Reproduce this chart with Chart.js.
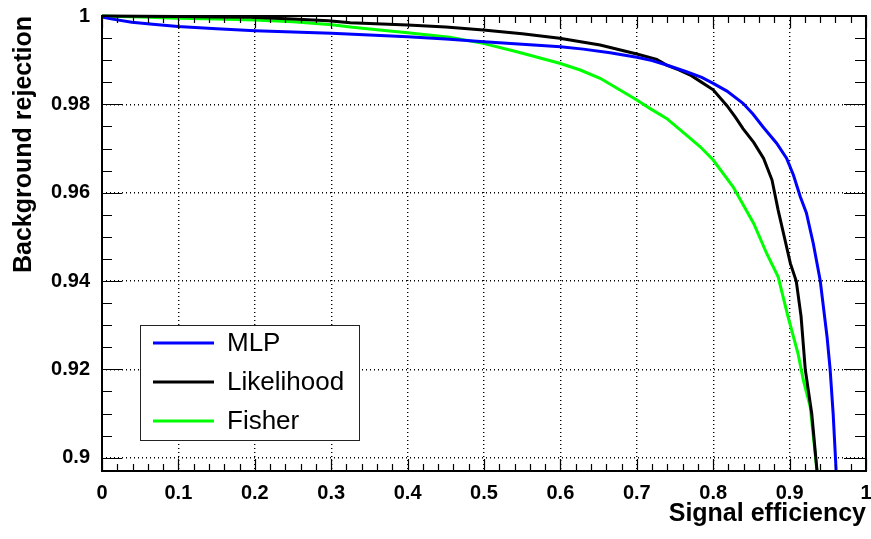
<!DOCTYPE html>
<html>
<head>
<meta charset="utf-8">
<script src="https://cdn.jsdelivr.net/npm/chart.js@4/dist/chart.umd.min.js"></script>
<style>
  html, body { margin: 0; padding: 0; background: #ffffff; }
  #wrap { width: 871px; height: 539px; position: relative; }
</style>
</head>
<body>
<div id="wrap"><canvas id="roc" width="871" height="539"></canvas></div>
<script>
// ROC curves: background rejection versus signal efficiency
const seriesNames = ['MLP', 'Likelihood', 'Fisher'];
const seriesColors = ['#0000ff', '#000000', '#00ff00'];

const mlpEff = [0, 0.01, 0.039, 0.07, 0.0995, 0.15, 0.2, 0.25, 0.3, 0.35, 0.4, 0.45, 0.5, 0.55, 0.6, 0.63, 0.665, 0.7, 0.72, 0.739, 0.765, 0.785, 0.8, 0.818, 0.839, 0.852, 0.865, 0.883, 0.896, 0.905, 0.914, 0.922, 0.931, 0.94, 0.949, 0.953, 0.957, 0.961, 0.962];
const mlpRej = [0.9998, 0.9994, 0.9986, 0.9981, 0.99765, 0.9971, 0.99667, 0.9964, 0.99608, 0.9957, 0.99531, 0.9948, 0.99418, 0.9936, 0.99305, 0.9925, 0.99169, 0.99064, 0.9899, 0.9889, 0.98738, 0.9861, 0.98475, 0.983, 0.98023, 0.9778, 0.97493, 0.9712, 0.9678, 0.964, 0.9591, 0.9554, 0.9485, 0.9402, 0.9274, 0.9201, 0.91, 0.8968, 0.894];

const likEff = [0, 0.05, 0.1, 0.15, 0.194, 0.25, 0.296, 0.325, 0.4, 0.45, 0.499, 0.55, 0.599, 0.652, 0.7, 0.726, 0.739, 0.755, 0.77, 0.783, 0.8, 0.818, 0.829, 0.839, 0.853, 0.866, 0.877, 0.885, 0.894, 0.901, 0.9087, 0.915, 0.9205, 0.929, 0.936, 0.937];
const likRej = [1.0, 0.99995, 0.9999, 0.9998, 0.9997, 0.9993, 0.99894, 0.99848, 0.99796, 0.9975, 0.99683, 0.996, 0.99495, 0.99343, 0.9914, 0.9902, 0.9889, 0.9878, 0.98664, 0.9852, 0.9833, 0.9797, 0.9771, 0.9745, 0.9714, 0.96777, 0.96286, 0.95607, 0.9493, 0.944, 0.94, 0.932, 0.92, 0.91, 0.8968, 0.894];

const fisEff = [0, 0.05, 0.0995, 0.15, 0.2, 0.25, 0.301, 0.325, 0.36, 0.4, 0.455, 0.499, 0.543, 0.599, 0.626, 0.652, 0.678, 0.7, 0.717, 0.739, 0.765, 0.783, 0.8, 0.826, 0.853, 0.87, 0.885, 0.898, 0.911, 0.918, 0.927, 0.936, 0.937];
const fisRej = [1.0, 0.9998, 0.9995, 0.9993, 0.99909, 0.9987, 0.998, 0.9975, 0.9969, 0.99622, 0.99517, 0.99381, 0.99191, 0.98929, 0.98777, 0.98589, 0.98324, 0.98097, 0.97909, 0.97682, 0.97305, 0.9704, 0.96739, 0.96134, 0.95304, 0.94624, 0.94095, 0.93189, 0.9236, 0.91755, 0.91151, 0.8968, 0.894];

const xTickValues = [0, 0.1, 0.2, 0.3, 0.4, 0.5, 0.6, 0.7, 0.8, 0.9, 1.0];
const xTickLabels = ['0', '0.1', '0.2', '0.3', '0.4', '0.5', '0.6', '0.7', '0.8', '0.9', '1'];
const yTickValues = [0.9, 0.92, 0.94, 0.96, 0.98, 1.0];
const yTickLabels = ['0.9', '0.92', '0.94', '0.96', '0.98', '1'];
const xRange = [0, 1];
const yRange = [0.897, 1.0];

const FONT = "'Liberation Sans', Arial, Helvetica, sans-serif";

function toPoints(xs, ys) {
  return xs.map((v, i) => ({ x: v, y: ys[i] }));
}

const curves = [toPoints(mlpEff, mlpRej), toPoints(likEff, likRej), toPoints(fisEff, fisRej)];

// Frame, inward ROOT-style ticks on all four sides, and the boxed legend
const framePlugin = {
  id: 'frameTicksLegend',
  afterDatasetsDraw(chart) {
    const { ctx, chartArea: a, scales } = chart;
    const xs = scales.x, ys = scales.y;
    ctx.save();
    ctx.strokeStyle = '#000';
    ctx.lineWidth = 1.2;
    ctx.beginPath();
    // x ticks every 0.02, major every 0.1
    for (let i = 0; i <= 50; i++) {
      const v = i * 0.02;
      const px = Math.round(xs.getPixelForValue(v)) + 0.5;
      const major = i % 5 === 0;
      const len = major ? 12 : 7;
      ctx.moveTo(px, a.bottom); ctx.lineTo(px, a.bottom - len);
      ctx.moveTo(px, a.top); ctx.lineTo(px, a.top + len);
    }
    // y ticks every 0.005, major every 0.02
    for (let i = 0; i <= 20; i++) {
      const v = 0.9 + i * 0.005;
      const py = Math.round(ys.getPixelForValue(v)) + 0.5;
      const major = i % 4 === 0;
      const ll = major ? 20 : 10;
      const lr = major ? 22 : 11;
      ctx.moveTo(a.left, py); ctx.lineTo(a.left + ll, py);
      ctx.moveTo(a.right, py); ctx.lineTo(a.right - lr, py);
    }
    ctx.stroke();

    ctx.lineWidth = 2;
    ctx.strokeRect(a.left, a.top, a.right - a.left, a.bottom - a.top);

    // legend box
    const bx = 140, by = 325, bw = 219, bh = 115;
    ctx.fillStyle = '#ffffff';
    ctx.fillRect(bx, by, bw, bh);
    ctx.lineWidth = 1;
    ctx.strokeStyle = '#222';
    ctx.strokeRect(bx + 0.5, by + 0.5, bw, bh);
    const rows = [343, 382, 421];
    ctx.font = '26px ' + FONT;
    ctx.textBaseline = 'middle';
    ctx.textAlign = 'left';
    chart.data.datasets.forEach((ds, i) => {
      ctx.strokeStyle = ds.borderColor;
      ctx.lineWidth = 3;
      ctx.beginPath();
      ctx.moveTo(153, rows[i]);
      ctx.lineTo(214, rows[i]);
      ctx.stroke();
      ctx.fillStyle = '#000';
      ctx.fillText(ds.label, 227, rows[i] + 1);
    });
    ctx.restore();
  }
};

new Chart(document.getElementById('roc'), {
  type: 'line',
  data: {
    datasets: seriesNames.map((name, i) => ({
      label: name,
      data: curves[i],
      borderColor: seriesColors[i],
      backgroundColor: seriesColors[i],
      borderWidth: 3,
      pointRadius: 0,
      tension: 0,
      fill: false,
      clip: { left: 0, top: 3, right: 0, bottom: 0 }
    }))
  },
  options: {
    responsive: false,
    animation: false,
    devicePixelRatio: 1,
    layout: { padding: { top: 16, right: 5, left: 0, bottom: 0 } },
    plugins: { legend: { display: false }, tooltip: { enabled: false } },
    scales: {
      x: {
        type: 'linear',
        min: xRange[0],
        max: xRange[1],
        afterBuildTicks: s => { s.ticks = xTickValues.map(v => ({ value: v })); },
        afterFit: s => { s.height = 68; s.paddingLeft = 0; s.paddingRight = 0; },
        ticks: {
          callback: (v, i) => xTickLabels[i],
          font: { family: FONT, weight: 'bold', size: 20 },
          color: '#000',
          padding: 10,
          maxRotation: 0,
          autoSkip: false
        },
        grid: { color: '#000', lineWidth: 1.4, drawTicks: false },
        border: { display: false, dash: [1, 3] },
        title: {
          display: true,
          text: 'Signal efficiency',
          align: 'end',
          color: '#000',
          font: { family: FONT, weight: 'bold', size: 25 },
          padding: { top: 0, bottom: 10 }
        }
      },
      y: {
        type: 'linear',
        min: yRange[0],
        max: yRange[1],
        afterBuildTicks: s => { s.ticks = yTickValues.map(v => ({ value: v })); },
        afterFit: s => { s.width = 102; s.paddingTop = 0; s.paddingBottom = 0; },
        ticks: {
          callback: (v, i) => yTickLabels[i],
          font: { family: FONT, weight: 'bold', size: 20 },
          color: '#000',
          padding: 12,
          autoSkip: false
        },
        grid: { color: '#000', lineWidth: 1.4, drawTicks: false },
        border: { display: false, dash: [1, 3] },
        title: {
          display: true,
          text: 'Background rejection',
          align: 'end',
          color: '#000',
          font: { family: FONT, weight: 'bold', size: 25 },
          padding: { top: 9, bottom: 0 }
        }
      }
    }
  },
  plugins: [framePlugin]
});
</script>
</body>
</html>
